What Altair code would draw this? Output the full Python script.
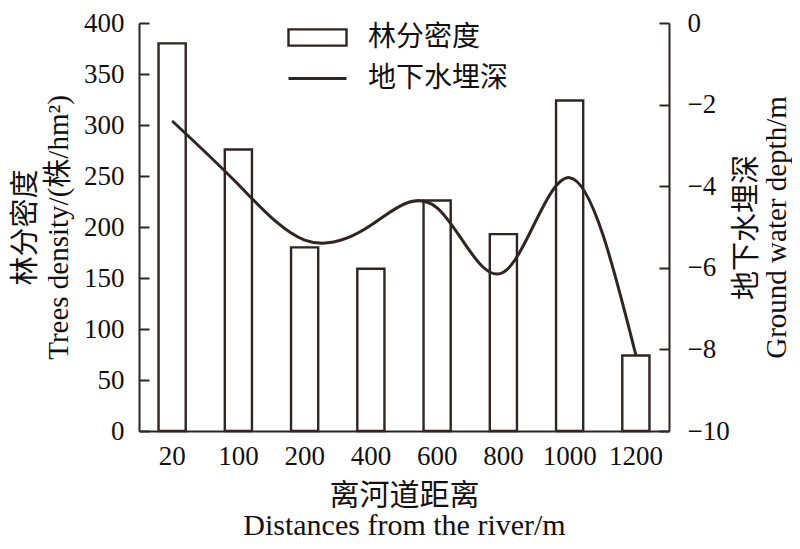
import altair as alt
import pandas as pd

# ---- data ----
distances = ["20", "100", "200", "400", "600", "800", "1000", "1200"]
tree_density = [380, 276, 180, 159, 226, 193, 324, 74]
water_depth = [-2.40, -3.96, -5.32, -4.96, -4.53, -6.11, -3.79, -8.14]
order_idx = list(range(len(distances)))
density_ticks = [0, 50, 100, 150, 200, 250, 300, 350, 400]
depth_ticks = [-10, -8, -6, -4, -2, 0]

df = pd.DataFrame({
    "distance": distances,
    "density": tree_density,
    "depth": water_depth,
    "idx": order_idx,
    "s1": "林分密度",
    "s2": "地下水埋深",
})

INK = "#2f2522"
TXT = "#111111"
SERIF = "Liberation Serif, Noto Sans CJK SC"
CJK = "Noto Sans CJK SC"
W, H = 530, 408

x_enc = alt.X(
    "distance:N", sort=distances,
    scale=alt.Scale(paddingInner=0.59, paddingOuter=0.295),
    axis=alt.Axis(
        title=["离河道距离", "Distances from the river/m"],
        labelAngle=0, ticks=False, labelPadding=12,
        labelFont=SERIF, labelFontSize=27, labelColor=TXT,
        titleFont=SERIF, titleFontSize=30, titleFontWeight="normal", titleColor=TXT,
        titleBaseline="top", titleY=49, titleLineHeight=30,
        domainColor=INK, domainWidth=2, grid=False,
    ),
)

bars = alt.Chart(df).mark_bar(stroke=INK, strokeWidth=2.4).encode(
    x=x_enc,
    y=alt.Y(
        "density:Q",
        scale=alt.Scale(domain=[0, 400], nice=False),
        axis=alt.Axis(
            orient="left", values=density_ticks, grid=False,
            title=["林分密度", "Trees density/(株/hm²)"],
            tickSize={"expr": "-10"}, tickColor=INK, tickWidth=2,
            labelPadding=25, labelFont=SERIF, labelFontSize=27, labelColor=TXT,
            domainColor=INK, domainWidth=2,
            titleFont=SERIF, titleFontSize=29, titleFontWeight="normal", titleColor=TXT,
            titleAngle=270, titleBaseline="top", titleAlign="center",
            titleX=-128, titleY=204, titleLineHeight=33,
        ),
    ),
    fill=alt.Fill(
        "s1:N", scale=alt.Scale(range=["white"]),
        legend=alt.Legend(
            title=None, orient="none", legendX=148, legendY=-16, padding=0,
            symbolType="M-1,-0.28H1V0.28H-1Z", symbolSize=3364,
            symbolStrokeColor=INK, symbolStrokeWidth=2.4, symbolFillColor="white",
            labelFont=CJK, labelFontSize=28, labelColor=TXT, labelOffset=20,
        ),
    ),
)

line = alt.Chart(df).mark_line(interpolate="natural", strokeWidth=3).encode(
    x=alt.X("distance:N", sort=distances),
    y=alt.Y(
        "depth:Q",
        scale=alt.Scale(domain=[-10, 0], nice=False, zero=False),
        axis=alt.Axis(
            orient="right", values=depth_ticks, grid=False,
            title=["地下水埋深", "Ground water depth/m"],
            tickSize={"expr": "-10"}, tickColor=INK, tickWidth=2,
            labelPadding=28, labelFont=SERIF, labelFontSize=27, labelColor=TXT,
            domainColor=INK, domainWidth=2,
            titleFont=SERIF, titleFontSize=29, titleFontWeight="normal", titleColor=TXT,
            titleAngle=270, titleBaseline="top", titleAlign="center",
            titleX=63, titleY=204, titleLineHeight=30,
        ),
    ),
    order=alt.Order("idx:Q"),
    stroke=alt.Stroke(
        "s2:N", scale=alt.Scale(range=[INK]),
        legend=alt.Legend(
            title=None, orient="none", legendX=148, legendY=25, padding=0,
            symbolType="stroke", symbolSize=3364, symbolStrokeWidth=3,
            labelFont=CJK, labelFontSize=28, labelColor=TXT, labelOffset=20,
        ),
    ),
)

chart = (
    alt.layer(bars, line)
    .resolve_scale(y="independent", fill="independent", stroke="independent")
    .properties(
        width=W, height=H,
        autosize=alt.AutoSizeParams(type="none"),
        padding={"left": 131, "top": 15, "right": 123, "bottom": 110},
        background="white",
    )
    .configure_view(stroke="transparent")
)

chart.save("out.html", embed_options={"renderer": "svg", "actions": False})
